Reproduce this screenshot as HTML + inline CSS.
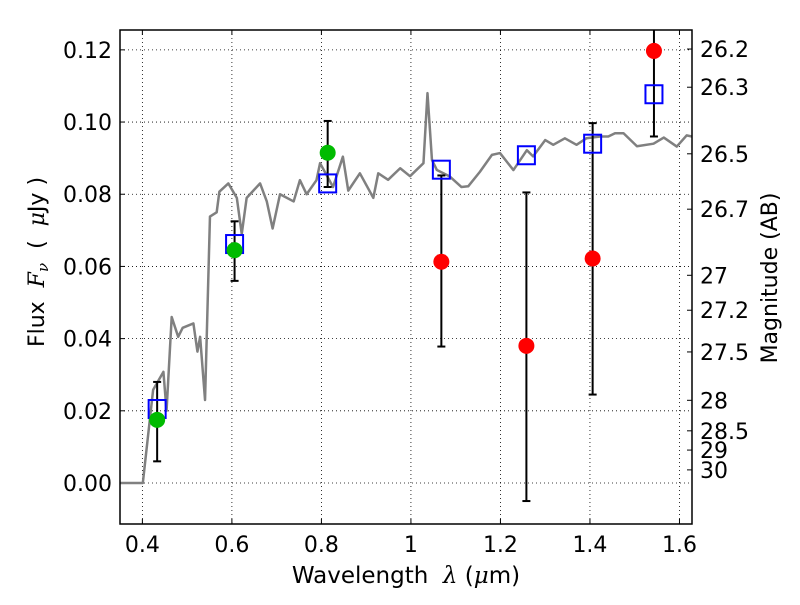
<!DOCTYPE html>
<html><head><meta charset="utf-8"><style>
body{margin:0;background:#fff}
svg text{font-family:"DejaVu Sans","Liberation Sans",sans-serif;fill:#000;white-space:pre}
</style></head><body>
<svg id="chart" width="800" height="600" xmlns="http://www.w3.org/2000/svg"></svg>
<script>
const xTicks=[0.4,0.6,0.8,1.0,1.2,1.4,1.6];
const xTickLabels=["0.4","0.6","0.8","1","1.2","1.4","1.6"];
const yTicks=[0,0.02,0.04,0.06,0.08,0.10,0.12];
const yTickLabels=["0.00","0.02","0.04","0.06","0.08","0.10","0.12"];
const magTicks=[26.2,26.3,26.5,26.7,27,27.2,27.5,28,28.5,29,30];
const magLabels=["26.2","26.3","26.5","26.7","27","27.2","27.5","28","28.5","29","30"];
const specX=[0.35,0.401,0.424,0.447,0.454,0.4655,0.48,0.49,0.514,0.523,0.529,0.54,0.551,0.566,0.572,0.592,0.611,0.622,0.633,0.663,0.678,0.691,0.7075,0.738,0.752,0.767,0.789,0.797,0.826,0.848,0.86,0.886,0.916,0.927,0.949,0.976,0.998,1.028,1.037,1.047,1.058,1.087,1.113,1.128,1.154,1.181,1.199,1.229,1.259,1.273,1.3,1.318,1.344,1.37,1.392,1.423,1.441,1.456,1.475,1.505,1.542,1.565,1.594,1.616,1.628];
const specY=[0,0,0.0258,0.0308,0.020,0.046,0.0405,0.043,0.0442,0.0364,0.0405,0.023,0.0738,0.075,0.0807,0.083,0.079,0.069,0.079,0.083,0.078,0.0705,0.080,0.078,0.0839,0.080,0.0839,0.0886,0.082,0.0904,0.081,0.0858,0.079,0.0858,0.084,0.0872,0.085,0.0886,0.108,0.0895,0.0867,0.0849,0.082,0.0822,0.0862,0.0909,0.0914,0.0867,0.0922,0.0905,0.095,0.0937,0.0955,0.0937,0.0955,0.096,0.096,0.0969,0.0969,0.0933,0.094,0.0957,0.0932,0.0963,0.096];
const obsX=[0.433,0.606,0.814,1.068,1.258,1.406,1.543];
const obsY=[0.0175,0.0645,0.0915,0.0613,0.038,0.0622,0.1197];
const obsLo=[0.006,0.056,0.082,0.0378,-0.005,0.0245,0.096];
const obsHi=[0.028,0.0725,0.1003,0.0852,0.0805,0.0997,0.13];
const obsColor=["#00bb00","#00bb00","#00bb00","#ff0000","#ff0000","#ff0000","#ff0000"];
const modelY=[0.0205,0.0662,0.083,0.0868,0.0908,0.094,0.1077];

const L=120,R=692,T=30,B=524,x0=0.35,x1=1.628,y0=-0.01136,y1=0.1255;
const X=v=>L+(v-x0)/(x1-x0)*(R-L);
const Y=v=>B-(v-y0)/(y1-y0)*(B-T);
const svg=document.getElementById('chart');
const NS="http://www.w3.org/2000/svg";
function mk(tag,attrs,parent){const e=document.createElementNS(NS,tag);for(const k in attrs)e.setAttribute(k,attrs[k]);(parent||svg).appendChild(e);return e;}
const clip=mk('clipPath',{id:'pc'});mk('rect',{x:L,y:T,width:R-L,height:B-T},clip);

xTicks.forEach((t,i)=>{
 const g=mk('line',{x1:X(t),x2:X(t),y1:T,y2:B,stroke:'#000','stroke-width':0.8,'stroke-dasharray':'1,3'});
 
 mk('line',{x1:X(t),x2:X(t),y1:B,y2:B-5,stroke:'#000'});mk('line',{x1:X(t),x2:X(t),y1:T,y2:T+5,stroke:'#000'});
 const tx=mk('text',{x:X(t),y:B+28,'text-anchor':'middle','font-size':22});tx.textContent=xTickLabels[i];
 
});
yTicks.forEach((t,i)=>{
 const g=mk('line',{x1:L,x2:R,y1:Y(t),y2:Y(t),stroke:'#000','stroke-width':0.8,'stroke-dasharray':'1,3'});
 
 mk('line',{x1:L,x2:L+5,y1:Y(t),y2:Y(t),stroke:'#000'});
 const tx=mk('text',{x:L-8,y:Y(t)+8,'text-anchor':'end','font-size':22});tx.textContent=yTickLabels[i];
 
});
magTicks.forEach((m,i)=>{
 const f=Math.pow(10,(23.9-m)/2.5);
 mk('line',{x1:R-5,x2:R,y1:Y(f),y2:Y(f),stroke:'#000'});
 const tx=mk('text',{x:R+8,y:Y(f)+8,'font-size':22});tx.textContent=magLabels[i];
 
});
const pts=specX.map((v,i)=>X(v)+','+Y(specY[i])).join(' ');
const sp=mk('polyline',{points:pts,fill:'none',stroke:'#808080','stroke-width':2.5,'clip-path':'url(#pc)','stroke-linejoin':'round'});

obsX.forEach((v,i)=>{
 const cx=X(v);
 const e=mk('line',{x1:cx,x2:cx,y1:Y(obsLo[i]),y2:Math.max(Y(obsHi[i]),T),stroke:'#000','stroke-width':2,'clip-path':'url(#pc)'});
 
 [obsLo[i],obsHi[i]].forEach(q=>{if(Y(q)>T)mk('line',{x1:cx-4,x2:cx+4,y1:Y(q),y2:Y(q),stroke:'#000','stroke-width':2});});
 const s=mk('rect',{x:cx-8.5,y:Y(modelY[i])-9,width:17,height:18,fill:'none',stroke:'#0000ff','stroke-width':2});
 
 const c=mk('circle',{cx:cx,cy:Y(obsY[i]),r:8,fill:obsColor[i]});
 
});
const fr=mk('rect',{x:L,y:T,width:R-L,height:B-T,fill:'none',stroke:'#000','stroke-width':1.5});

let t=mk('text',{x:406,y:583,'text-anchor':'middle','font-size':23});t.innerHTML='Wavelength  <tspan font-style="italic" font-family="DejaVu Serif">λ</tspan> (<tspan font-style="italic" font-family="DejaVu Serif">μ</tspan>m)';

t=mk('text',{x:0,y:0,'text-anchor':'middle','font-size':22,transform:'translate(44,262) rotate(-90)'});t.innerHTML='Flux  <tspan font-style="italic" font-family="DejaVu Serif">F</tspan><tspan font-style="italic" font-family="DejaVu Serif" font-size="15" dy="4">ν</tspan><tspan dy="-4">  (  </tspan><tspan font-style="italic" font-family="DejaVu Serif">μ</tspan>Jy )';

t=mk('text',{x:0,y:0,'text-anchor':'middle','font-size':22,transform:'translate(777,278) rotate(-90)'});t.textContent='Magnitude (AB)';

</script>
</body></html>
